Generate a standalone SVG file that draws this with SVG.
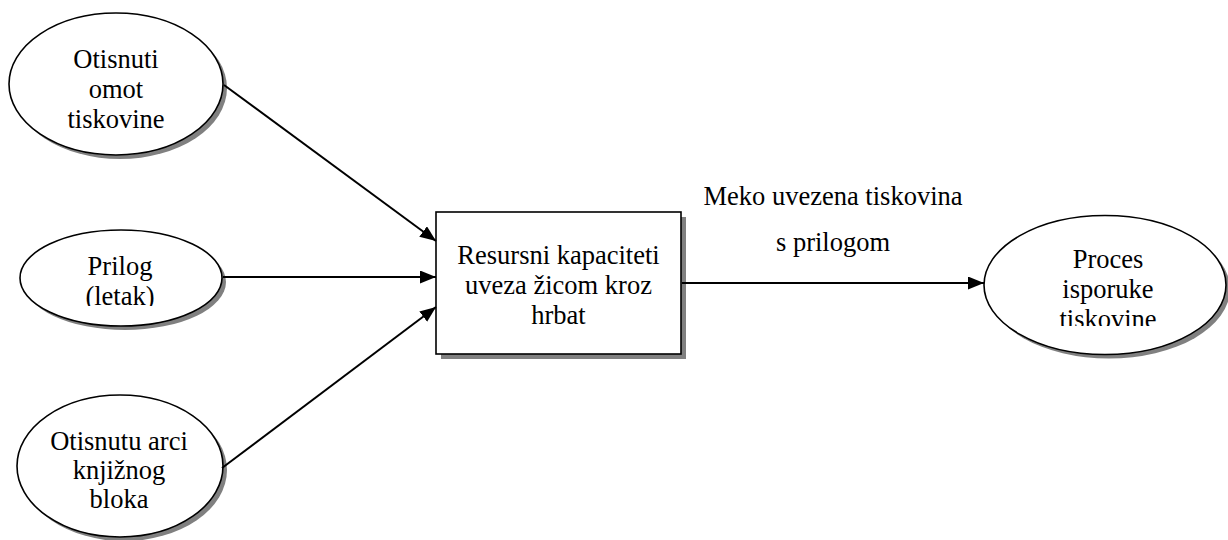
<svg xmlns="http://www.w3.org/2000/svg" width="1228" height="540" viewBox="0 0 1228 540">
<style>
.shadow{fill:#808080;stroke:none}
.shape{fill:#ffffff;stroke:#000000;stroke-width:1.6}
.t{font-family:"Liberation Serif","Times New Roman",serif;font-size:26.5px;fill:#000000;text-anchor:middle}
.conn{stroke:#000000;stroke-width:2;fill:none;marker-end:url(#arrow)}
</style>
<defs>
<marker id="arrow" markerUnits="userSpaceOnUse" markerWidth="18" markerHeight="14" refX="16" refY="6.5" orient="auto">
<path d="M0,0 L16,6.5 L0,13 Z" fill="#000000"/>
</marker>
<clipPath id="clipPrilog"><rect x="20" y="230" width="205" height="76"/></clipPath>
<clipPath id="clipProces"><rect x="984" y="215" width="244" height="111"/></clipPath>
</defs>
<rect width="1228" height="540" fill="#ffffff"/>
<g id="node-otisnuti-omot">
<ellipse class="shadow" cx="120" cy="88" rx="107" ry="71"/>
<ellipse class="shape" cx="116" cy="84" rx="107" ry="71"/>
<text class="t" x="116" y="68">Otisnuti</text>
<text class="t" x="116" y="98">omot</text>
<text class="t" x="116" y="128">tiskovine</text>
</g>
<g id="node-prilog">
<ellipse class="shadow" cx="125" cy="282" rx="101" ry="48"/>
<ellipse class="shape" cx="121" cy="278" rx="101" ry="48"/>
<g clip-path="url(#clipPrilog)">
<text class="t" x="120" y="275">Prilog</text>
<text class="t" x="120" y="305">(letak)</text>
</g>
</g>
<g id="node-otisnutu-arci">
<ellipse class="shadow" cx="124" cy="470" rx="103" ry="71"/>
<ellipse class="shape" cx="120" cy="466" rx="103" ry="71"/>
<text class="t" x="119" y="450">Otisnutu arci</text>
<text class="t" x="119" y="479">knjižnog</text>
<text class="t" x="119" y="508">bloka</text>
</g>
<g id="node-resursni">
<rect class="shadow" x="441" y="217" width="245" height="142"/>
<rect class="shape" x="436" y="212" width="245" height="142"/>
<text class="t" x="558.5" y="264">Resursni kapaciteti</text>
<text class="t" x="558.5" y="294">uveza žicom kroz</text>
<text class="t" x="558.5" y="324">hrbat</text>
</g>
<g id="node-proces">
<ellipse class="shadow" cx="1109" cy="289" rx="121" ry="69.5"/>
<ellipse class="shape" cx="1105" cy="285" rx="121" ry="69.5"/>
<g clip-path="url(#clipProces)">
<text class="t" x="1108" y="268">Proces</text>
<text class="t" x="1108" y="298">isporuke</text>
<text class="t" x="1108" y="328">tiskovine</text>
</g>
</g>
<g id="connectors">
<line class="conn" x1="224" y1="85" x2="436" y2="241"/>
<line class="conn" x1="223" y1="277" x2="436" y2="277"/>
<line class="conn" x1="222" y1="468" x2="436" y2="307"/>
<line class="conn" x1="682" y1="283" x2="984" y2="283"/>
</g>
<g id="label-edge">
<text class="t" x="833" y="205">Meko uvezena tiskovina</text>
<text class="t" x="833" y="251">s prilogom</text>
</g>
</svg>
